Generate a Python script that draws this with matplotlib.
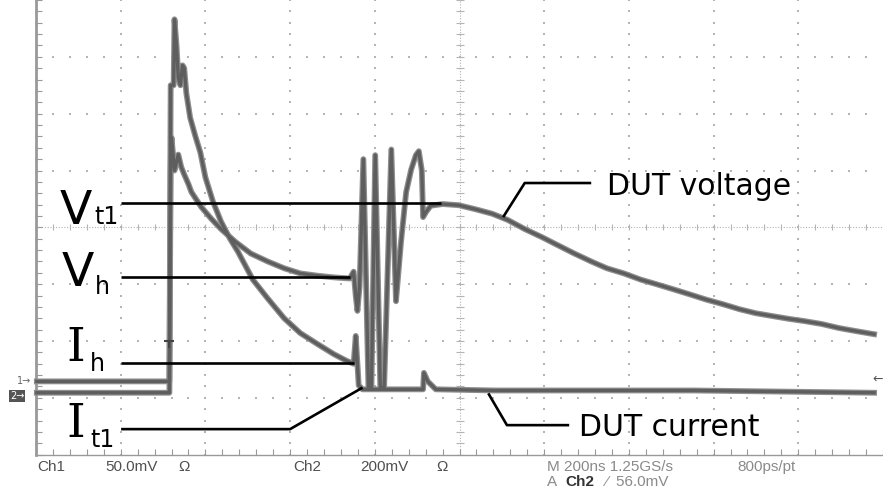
import numpy as np
import matplotlib.pyplot as plt
import matplotlib.transforms as mtransforms

# Oscilloscope capture of a TLP pulse on the DUT.
# Time in ns (200 ns/div, 0 = screen centre), traces in screen divisions.
t_voltage = [-998, -850, -685, -682, -680, -673, -664, -657, -650, -640, -633,
             -610, -586, -563, -530, -493, -453, -414, -376, -336, -297, -259,
             -250, -245, -241, -236, -227, -215, -208, -199, -187, -178,
             -161, -150, -138, -126, -114, -103, -96, -89, -86, -79, -68,
             -40, -2, 37, 77, 114, 154, 194, 231, 271, 311,
             348, 388, 428, 465, 505, 544, 582, 621, 661, 699,
             738, 778, 815, 855, 895, 932, 979]
v_voltage = [-2.71, -2.71, -2.71, 1.06, 1.58, 1.00, 1.28, 1.06, 0.93, 0.76, 0.62,
             0.36, 0.15, -0.03, -0.25, -0.46, -0.60, -0.72, -0.81, -0.85, -0.88, -0.90,
             -0.78, -1.21, -1.47, -1.04, 1.20, -2.82, -2.82, 1.27, -2.82, -2.82,
             1.37, -1.30, -0.25, 0.62, 1.02, 1.27, 1.34, 1.00, 0.18, 0.27, 0.38,
             0.41, 0.39, 0.32, 0.24, 0.13, -0.03, -0.17, -0.31, -0.46, -0.60,
             -0.72, -0.81, -0.92, -1.00, -1.09, -1.18, -1.27, -1.35, -1.44, -1.51,
             -1.56, -1.61, -1.65, -1.70, -1.77, -1.82, -1.88]

t_current = [-998, -685, -682, -675, -673, -668, -664, -659, -654, -650, -645,
             -636, -624, -612, -600, -582, -563, -542, -523, -488, -453, -414,
             -376, -336, -297, -266, -250, -245, -238, -229, -86, -84, -75, -56,
             84, 551, 979]
v_current = [-2.91, -2.91, 2.50, 2.50, 3.66, 3.18, 2.63, 2.50, 2.85, 2.80, 2.36,
             1.93, 1.61, 1.32, 0.88, 0.45, 0.10, -0.20, -0.43, -0.92, -1.25, -1.60,
             -1.86, -2.05, -2.23, -2.35, -2.40, -1.91, -2.78, -2.85, -2.85, -2.56, -2.71, -2.85,
             -2.87, -2.87, -2.91]

# annotation leader lines (label side -> trace side)
leaders = {
    "Vt1": ([-799, -44], [0.43, 0.43]),
    "Vh": ([-799, -259], [-0.88, -0.88]),
    "Ih": ([-799, -248], [-2.38, -2.38]),
    "It1": ([-799, -400, -229], [-3.55, -3.55, -2.82]),
    "DUT voltage": ([103, 154, 311], [0.18, 0.78, 0.78]),
    "DUT current": ([68, 112, 259], [-2.92, -3.48, -3.48]),
}

TRACE = "#5e5e5e"
HALO = "#8e8e8e"
GRID = "#b4b4b4"
EDGE = "#999999"

fig = plt.figure(figsize=(8.83, 4.91), dpi=100)
ax = fig.add_axes([36 / 883, 36.3 / 491, 847 / 883, 454.7 / 491])
ax.set_xlim(-1000, 979)
ax.set_ylim(-4, 3.935)

# ── graticule ────────────────────────────────────────────────────────────────
row_x = np.arange(-1000, 1000, 40)
col_y = np.arange(-4, 4.001, 0.2)
for k in [-3, -2, -1, 1, 2, 3]:
    ax.scatter(row_x, np.full(row_x.shape, float(k)), s=2, marker="s",
               color=GRID, lw=0, zorder=1)
for k in [-800, -600, -400, -200, 200, 400, 600, 800]:
    ax.scatter(np.full(col_y.shape, float(k)), col_y, s=2, marker="s",
               color=GRID, lw=0, zorder=1)
ax.axhline(0, color=GRID, lw=0.8, ls=(0, (1, 1.5)), zorder=1)
ax.axvline(0, color=GRID, lw=0.8, ls=(0, (1, 1.5)), zorder=1)
ax.scatter(row_x, np.zeros(row_x.shape), marker="|", s=18, color=GRID, lw=0.8, zorder=1)
ax.scatter(np.zeros(col_y.shape), col_y, marker="_", s=30, color=GRID, lw=0.8, zorder=1)

ax.set_xticks(np.arange(-1000, 1001, 200))
ax.set_xticks(np.arange(-1000, 1000, 40), minor=True)
ax.set_yticks(np.arange(-4, 4.01, 1))
ax.set_yticks(np.arange(-4, 4.01, 0.2), minor=True)
ax.tick_params(which="both", direction="in", length=4, width=0.8, color=EDGE,
               labelbottom=False, labelleft=False)
for side in ("top", "right"):
    ax.spines[side].set_visible(False)
ax.spines["left"].set_color(EDGE)
ax.spines["left"].set_linewidth(2)
ax.spines["bottom"].set_color(EDGE)
ax.spines["bottom"].set_linewidth(1)

# ── traces ───────────────────────────────────────────────────────────────────
for t, v in ((t_current, v_current), (t_voltage, v_voltage)):
    ax.plot(t, v, color=HALO, lw=4.2, zorder=3, clip_on=False)
    ax.plot(t, v, color=TRACE, lw=2.4, zorder=4, clip_on=False)

# trigger point marker on the rising edge
ax.plot([-685], [-2.0], marker="_", ms=7, mew=1.5, color="#444444", zorder=5)
ax.plot([-685], [-2.0], marker=3, ms=5, mew=1.5, color="#444444", zorder=5)

# ── annotations ──────────────────────────────────────────────────────────────
for xs, ys in leaders.values():
    ax.plot(xs, ys, color="black", lw=1.9, zorder=6, solid_capstyle="butt")

big = dict(fontsize=34, family="DejaVu Sans", ha="left", va="baseline", zorder=7)
sub = dict(fontsize=17, family="DejaVu Sans", ha="left", va="baseline", zorder=7)
serif_i = dict(big, family="DejaVu Serif")
ax.text(-944, 0.06, "V", **big)
ax.text(-862, 0.06, "t1", **sub)
ax.text(-939, -1.04, "V", **big)
ax.text(-862, -1.18, "h", **sub)
ax.text(-928, -2.35, "I", **serif_i)
ax.text(-872, -2.52, "h", **sub)
ax.text(-928, -3.69, "I", **serif_i)
ax.text(-872, -3.87, "t1", **sub)

ax.text(348, 0.57, "DUT voltage", fontsize=21.5, ha="left", va="baseline", zorder=7)
ax.text(283, -3.67, "DUT current", fontsize=21.5, ha="left", va="baseline", zorder=7)

# ── channel / trigger markers ────────────────────────────────────────────────
side = mtransforms.blended_transform_factory(fig.transFigure, ax.transData)
ax.text(17 / 883, -2.71, "1→", transform=side, fontsize=7, color="#666666",
        ha="left", va="center")
ax.text(10 / 883, -2.96, "2→", transform=side, fontsize=7, color="white",
        ha="left", va="center",
        bbox=dict(boxstyle="square,pad=0.1", fc="#555555", ec="none"))
ax.text(1.0, -2.68, "←", transform=side, fontsize=9, color="#555555",
        ha="right", va="center")

# ── status line ──────────────────────────────────────────────────────────────
status_font = ["Liberation Sans", "DejaVu Sans"]
dark, light = "#505050", "#8a8a8a"
row1 = [("Ch1", 37, dark), ("50.0mV", 105, dark), ("Ω", 178, dark),
        ("Ch2", 293, dark), ("200mV", 360, dark), ("Ω", 436, dark),
        ("M 200ns 1.25GS/s", 547, light), ("800ps/pt", 737, light)]
for s, x, c in row1:
    fig.text(x / 883, 1 - 467 / 491, s, fontsize=11, color=c, family=status_font,
             ha="left", va="center")
fig.text(547 / 883, 1 - 482 / 491, "A", fontsize=11, color=light,
         family=status_font, ha="left", va="center")
fig.text(565 / 883, 1 - 482 / 491, "Ch2", fontsize=11, color="#333333",
         family=status_font, weight="bold", ha="left", va="center")
fig.text(605 / 883, 1 - 482 / 491, "⁄  56.0mV", fontsize=11, color=light,
         family=status_font, ha="left", va="center")

fig.savefig("out.png", dpi=100)
